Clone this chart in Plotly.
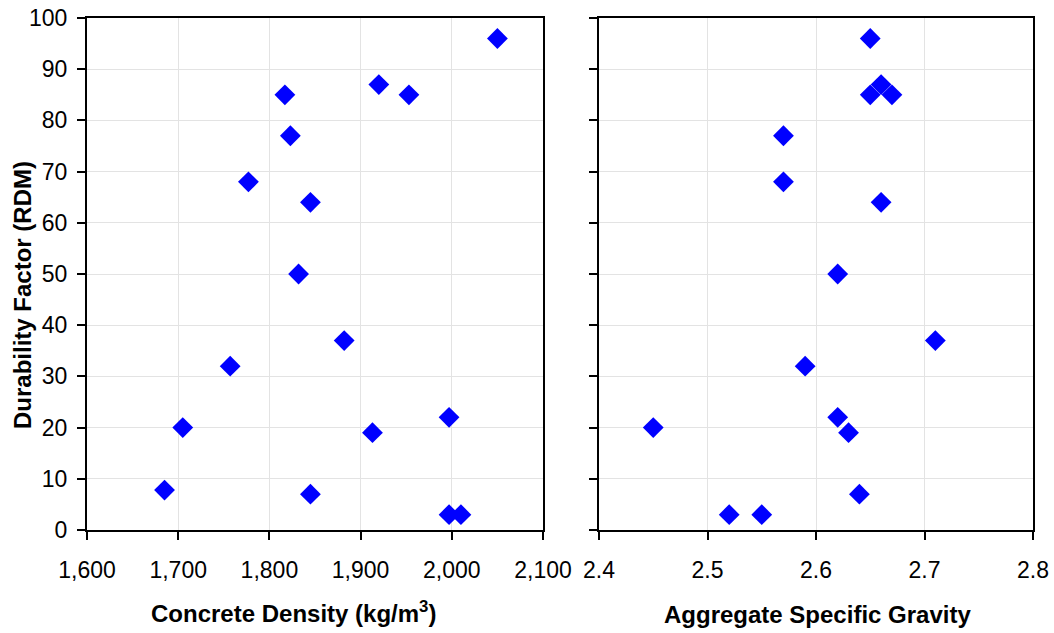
import plotly.graph_objects as go

# Left panel: concrete density vs durability factor
density = [2050, 1920, 1953, 1817, 1823, 1777, 1845, 1832, 1882, 1757, 1705, 1913, 1997, 1685, 1845, 1997, 2010]
df_density = [96, 87, 85, 85, 77, 68, 64, 50, 37, 32, 20, 19, 22, 7.8, 7, 3, 3]

# Right panel: aggregate specific gravity vs durability factor
sg = [2.65, 2.66, 2.65, 2.67, 2.57, 2.57, 2.66, 2.62, 2.71, 2.59, 2.45, 2.62, 2.63, 2.64, 2.52, 2.55]
df_sg = [96, 87, 85, 85, 77, 68, 64, 50, 37, 32, 20, 22, 19, 7, 3, 3]

W, H = 1054, 633
marker = dict(symbol="diamond", size=16, color="#0000FF", line=dict(width=0))

fig = go.Figure()
fig.add_trace(go.Scatter(x=density, y=df_density, mode="markers", marker=marker,
                         xaxis="x", yaxis="y", showlegend=False))
fig.add_trace(go.Scatter(x=sg, y=df_sg, mode="markers", marker=marker,
                         xaxis="x2", yaxis="y2", showlegend=False))

tickfont = dict(family="Liberation Sans, Arial, sans-serif", size=23, color="black")
common = dict(showline=True, linecolor="black", linewidth=2, mirror=True,
              ticks="outside", ticklen=8, tickwidth=2, tickcolor="black",
              showgrid=True, gridcolor="#E3E3E3", gridwidth=1, zeroline=False,
              tickfont=tickfont, automargin=False)

y0, y1 = 1 - 530 / H, 1 - 18 / H

fig.update_layout(
    width=W, height=H,
    margin=dict(l=0, r=0, t=0, b=0),
    paper_bgcolor="white", plot_bgcolor="white",
    xaxis=dict(domain=[87 / W, 543 / W], range=[1600, 2100], dtick=100,
               tickformat=",d", anchor="y", ticklabelstandoff=10, **common),
    yaxis=dict(domain=[y0, y1], range=[0, 100], dtick=10, anchor="x",
               ticklabelstandoff=5, **common),
    xaxis2=dict(domain=[599 / W, 1033 / W], range=[2.4, 2.8], dtick=0.1,
                tickformat=".1f", anchor="y2", ticklabelstandoff=10, **common),
    yaxis2=dict(domain=[y0, y1], range=[0, 100], dtick=10, anchor="x2",
                showticklabels=False, **common),
)

titlefont = dict(family="Liberation Sans, Arial, sans-serif", size=24, color="black")
fig.add_annotation(text="<b>Concrete Density (kg/m<sup>3</sup>)</b>", x=293 / W, y=1 - 612 / H,
                   xref="paper", yref="paper", showarrow=False, font=titlefont,
                   xanchor="center", yanchor="middle")
fig.add_annotation(text="<b>Aggregate Specific Gravity</b>", x=817 / W, y=1 - 614 / H,
                   xref="paper", yref="paper", showarrow=False, font=titlefont,
                   xanchor="center", yanchor="middle")
fig.add_annotation(text="<b>Durability Factor (RDM)</b>", x=22 / W, y=1 - 295 / H,
                   xref="paper", yref="paper", showarrow=False, font=titlefont,
                   textangle=-90, xanchor="center", yanchor="middle")

fig.write_html("out.html")
